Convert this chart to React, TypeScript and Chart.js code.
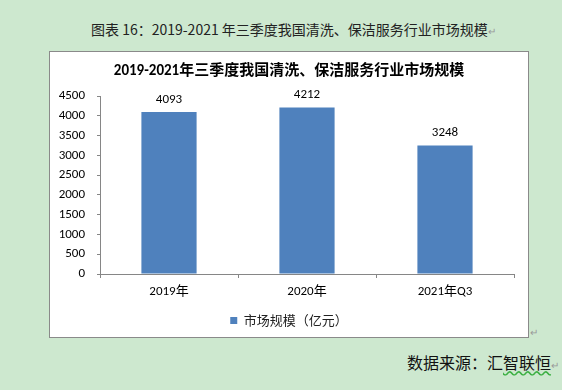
import React, { useEffect, useRef } from "react";
import { Chart, registerables } from "chart.js";

Chart.register(...registerables);

// ---- data ----
const categories: string[] = ["2019年", "2020年", "2021年Q3"];
const marketSize: number[] = [4093, 4212, 3248];
const seriesName = "市场规模（亿元）";
const chartTitle = "2019-2021年三季度我国清洗、保洁服务行业市场规模";
const figureTitle = "图表 16：2019-2021 年三季度我国清洗、保洁服务行业市场规模";
const sourceLead = "数据来源：汇";
const sourceTail = "智联恒";
const yMin = 0;
const yMax = 4500;
const yStep = 500;

const FONT = "Carlito, Lato, 'Noto Sans CJK SC', sans-serif";
const CJK = "'Noto Sans CJK SC', sans-serif";
const BAR = "#4f81bd";
const AXIS = "#868686";

const valueLabels = {
  id: "valueLabels",
  afterDatasetsDraw(chart: any) {
    const ctx = chart.ctx;
    const meta = chart.getDatasetMeta(0);
    const data = chart.data.datasets[0].data;
    ctx.save();
    ctx.font = `13px ${FONT}`;
    ctx.fillStyle = "#000";
    ctx.textAlign = "center";
    ctx.textBaseline = "bottom";
    meta.data.forEach((bar: any, i: number) => {
      ctx.fillText(String(data[i]), bar.x, bar.y - 6);
    });
    ctx.restore();
  },
};

function BarChart() {
  const ref = useRef<HTMLCanvasElement | null>(null);
  useEffect(() => {
    if (!ref.current) return;
    const chart = new Chart(ref.current, {
      type: "bar",
      data: {
        labels: categories,
        datasets: [
          {
            label: seriesName,
            data: marketSize,
            backgroundColor: BAR,
            borderWidth: 0,
            barPercentage: 0.8,
            categoryPercentage: 0.5,
            yAxisID: "y",
          },
        ],
      },
      options: {
        responsive: false,
        animation: false,
        layout: { padding: { left: 0, right: 0, top: 0, bottom: 0 } },
        plugins: {
          title: {
            display: true,
            text: chartTitle,
            color: "#000",
            font: { family: FONT, size: 15, weight: "bold" },
            padding: { top: 10, bottom: 16 },
          },
          legend: {
            display: true,
            position: "bottom",
            labels: {
              color: "#222",
              boxWidth: 7,
              boxHeight: 7,
              padding: 11,
              font: { family: CJK, size: 13 },
            },
          },
          tooltip: { enabled: false },
        },
        scales: {
          x: {
            grid: {
              display: true,
              drawOnChartArea: false,
              drawTicks: true,
              tickLength: 4,
              color: AXIS,
            },
            border: { display: true, color: AXIS },
            ticks: {
              color: "#000",
              padding: 6,
              font: { family: FONT, size: 13 },
            },
            afterFit: (s: any) => {
              s.height = 29;
            },
          },
          y: {
            min: yMin,
            max: yMax,
            grid: {
              display: true,
              drawOnChartArea: false,
              drawTicks: true,
              tickLength: 3,
              color: AXIS,
            },
            border: { display: true, color: AXIS },
            ticks: {
              stepSize: yStep,
              color: "#000",
              padding: 12,
              font: { family: FONT, size: 13 },
              callback: (v: any) => String(v),
            },
            afterFit: (s: any) => {
              s.width = 50;
            },
          },
          yRight: {
            type: "linear",
            position: "right",
            display: true,
            grid: { display: false },
            border: { display: false },
            ticks: { display: false },
            afterFit: (s: any) => {
              s.width = 14;
            },
          },
        },
      },
      plugins: [valueLabels],
    } as any);
    return () => chart.destroy();
  }, []);
  return <canvas ref={ref} width={478} height={285} style={{ display: "block" }} />;
}

export default function App() {
  return (
    <div
      style={{
        position: "fixed",
        left: 0,
        top: 0,
        width: 562,
        height: 390,
        background: "#cde8cf",
        overflow: "hidden",
      }}
    >
      <div
        style={{
          position: "absolute",
          left: 91,
          top: 19,
          height: 20,
          lineHeight: "20px",
          fontFamily: CJK,
          fontSize: 14,
          color: "#222",
          whiteSpace: "pre",
        }}
      >
        {figureTitle}
        <span style={{ color: "#999", fontSize: 10 }}>↵</span>
      </div>
      <div
        style={{
          position: "absolute",
          left: 49,
          top: 51,
          width: 478,
          height: 285,
          border: "1px solid #8a8a8a",
          background: "#fff",
        }}
      >
        <BarChart />
      </div>
      <div
        style={{
          position: "absolute",
          left: 530,
          top: 326,
          fontSize: 10,
          lineHeight: "12px",
          color: "#999",
          fontFamily: CJK,
        }}
      >
        ↵
      </div>
      <div
        style={{
          position: "absolute",
          left: 407,
          top: 351,
          height: 22,
          lineHeight: "22px",
          fontFamily: CJK,
          fontSize: 16,
          color: "#111",
          whiteSpace: "pre",
        }}
      >
        {sourceLead}
        <span
          style={{
            textDecorationLine: "underline",
            textDecorationStyle: "wavy",
            textDecorationColor: "#3cb043",
          }}
        >
          {sourceTail}
        </span>
        <span style={{ color: "#999", fontSize: 10 }}>↵</span>
      </div>
    </div>
  );
}
